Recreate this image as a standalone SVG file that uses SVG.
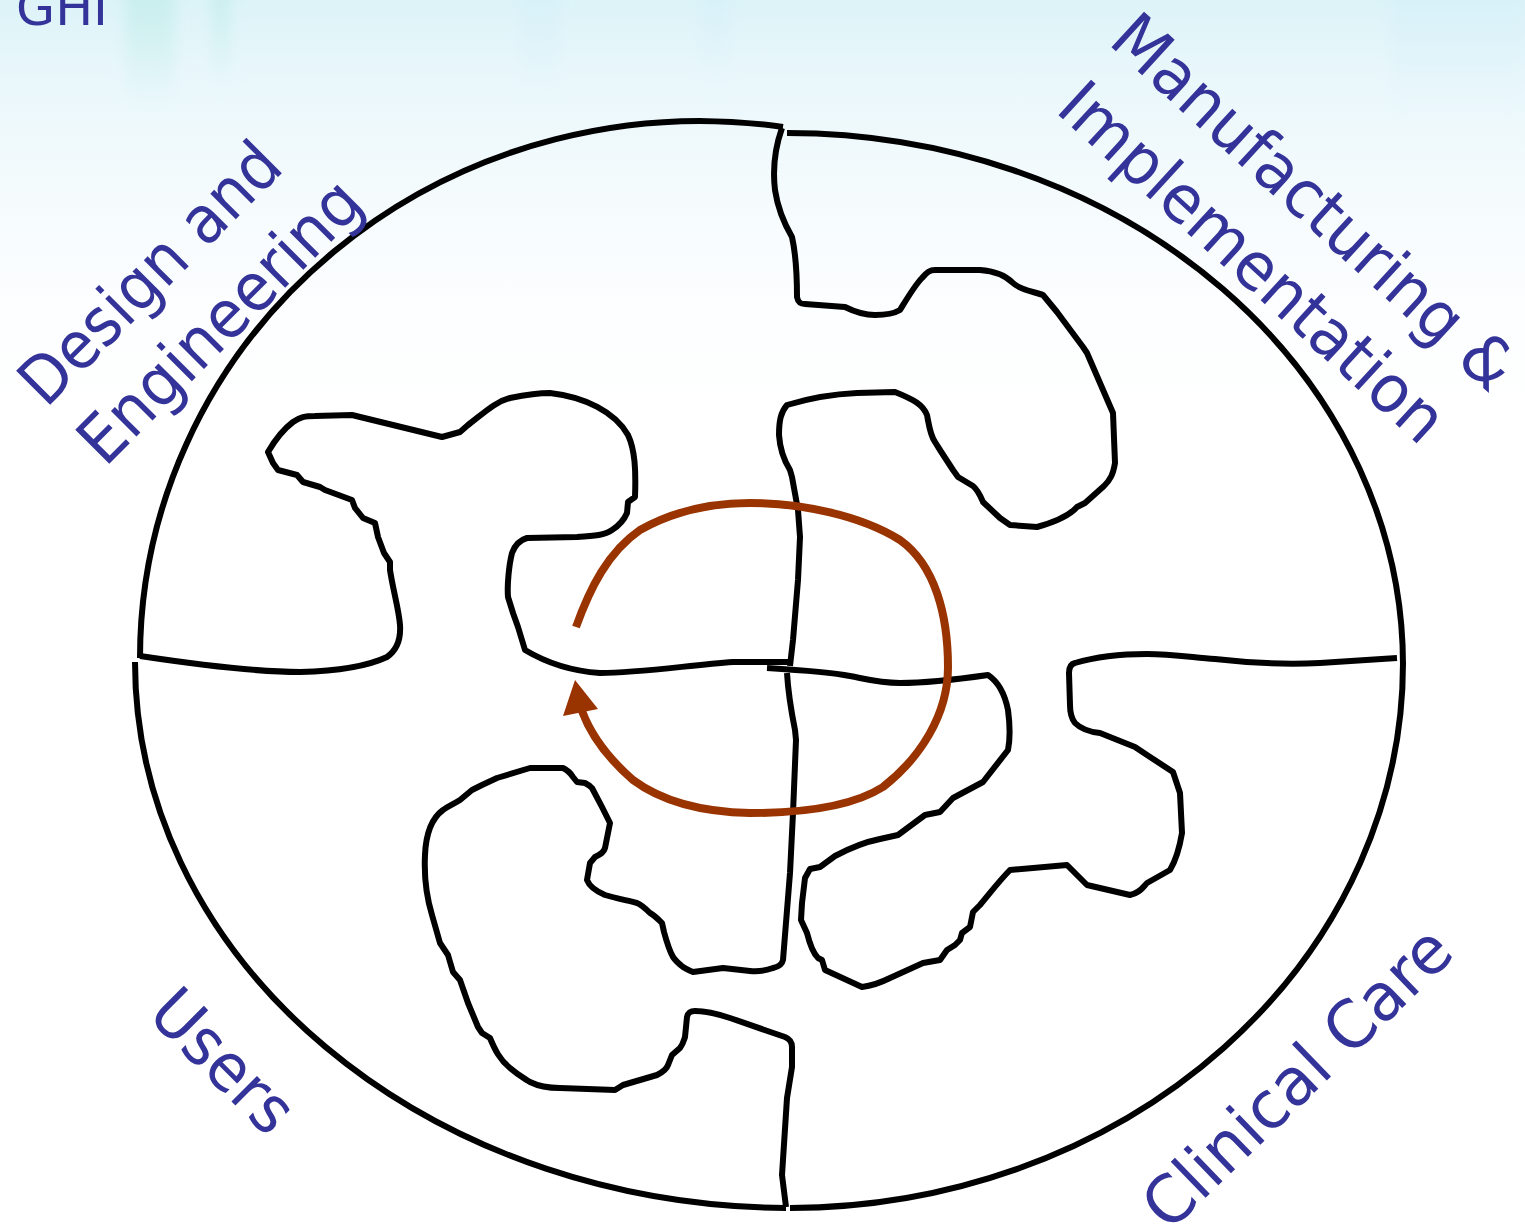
<svg xmlns="http://www.w3.org/2000/svg" width="1525" height="1231" viewBox="0 0 1525 1231">
<defs>
<linearGradient id="bg" x1="0" y1="0" x2="0" y2="1231" gradientUnits="userSpaceOnUse">
<stop offset="0" stop-color="#dcf3f8"/>
<stop offset="0.06" stop-color="#e9f7fb"/>
<stop offset="0.16" stop-color="#f5fbfd"/>
<stop offset="0.26" stop-color="#fdfeff"/>
<stop offset="0.35" stop-color="#ffffff"/>
<stop offset="1" stop-color="#ffffff"/>
</linearGradient>
<linearGradient id="streak" x1="0" y1="0" x2="0" y2="1">
<stop offset="0" stop-color="#bfece8" stop-opacity="0.75"/>
<stop offset="1" stop-color="#bfece8" stop-opacity="0"/>
</linearGradient>
<linearGradient id="streak2" x1="0" y1="0" x2="0" y2="1">
<stop offset="0" stop-color="#d4eff8" stop-opacity="0.6"/>
<stop offset="1" stop-color="#d4eff8" stop-opacity="0"/>
</linearGradient>
<filter id="soft" x="-50%" y="-50%" width="200%" height="200%">
<feGaussianBlur stdDeviation="7"/>
</filter>
</defs>
<style>
.edge{fill:none;stroke:#000;stroke-width:6;stroke-linejoin:round;stroke-linecap:butt}
.lbl{font-family:"DejaVu Sans","Liberation Sans",sans-serif;font-size:66px;fill:#333399}
.flow{fill:none;stroke:#993300;stroke-width:8;stroke-linecap:butt}
</style>
<g id="background">
<rect x="0" y="0" width="1525" height="1231" fill="url(#bg)"/>
<g filter="url(#soft)">
<rect x="125" y="-20" width="50" height="130" fill="url(#streak)"/>
<rect x="212" y="-20" width="18" height="110" fill="url(#streak)"/>
<rect x="520" y="-20" width="40" height="120" fill="url(#streak2)"/>
<rect x="700" y="-20" width="30" height="110" fill="url(#streak2)"/>
<rect x="1390" y="-20" width="135" height="140" fill="url(#streak2)"/>
</g>
</g>
<text id="title" x="16" y="25" style="font-family:'DejaVu Sans','Liberation Sans',sans-serif;font-size:50px;fill:#333399" textLength="92" lengthAdjust="spacingAndGlyphs">GHI</text>
<g id="design-engineering">
<path class="edge" d="M140,658 A560,537 0 0 1 783,127"/>
<path class="edge" d="M140,656 C200,665 260,672 300,672 C340,671 370,665 387,657 C397,650 401,640 400,625 C399,610 393,590 390,570 L390,562 L384,553 L378,537 L375,523 L363,518 L355,508 L352,500 L325,490 L320,487 L303,482 L297,475 L278,470 L273,463 L268,452 C275,440 285,428 293,422 C300,417 305,416 315,416 L352,415 L442,437 L460,432 L468,425 C485,412 495,402 510,398 C525,395 540,393 550,393 C585,397 615,412 628,435 C635,450 636,470 635,497 L628,502 L627,513 C624,520 620,525 612,530 C605,535 595,536 577,537 L527,538 C520,540 515,545 512,553 C509,565 507,585 508,597 L513,613 L518,627 L525,650 C545,662 570,671 600,673 C640,673 690,665 733,662 L789,662"/>
<text class="lbl" transform="translate(46,409) rotate(-45)" textLength="339" lengthAdjust="spacingAndGlyphs">Design and</text>
<text class="lbl" transform="translate(105,468) rotate(-45)" textLength="370" lengthAdjust="spacingAndGlyphs">Engineering</text>
</g>
<g id="manufacturing-implementation">
<path class="edge" d="M787,133 A616,532 0 0 1 1403,665"/>
<path class="edge" d="M782,128 C776,145 772,165 775,190 C778,210 785,225 792,237 C796,255 797,280 797,297 C798,302 800,304 805,304 L845,307 C855,312 865,315 875,315 C888,315 895,313 900,310 C908,297 915,285 922,278 C927,272 930,270 935,270 L980,270 C995,271 1005,275 1013,283 C1020,290 1035,292 1043,295 L1057,312 L1083,347 L1087,353 L1113,413 L1115,463 C1113,475 1110,480 1104,486 L1085,503 L1077,507 C1070,515 1055,522 1037,527 L1010,525 L1000,518 L983,502 C980,495 978,490 973,486 L958,477 L953,470 L940,450 L935,442 C930,435 929,425 927,415 C923,405 915,400 895,392 L857,393 C835,394 810,398 787,405 C781,412 779,420 779,435 C780,450 785,462 790,470 L792,477 L798,510 L800,537 L798,580 L793,640 L790,666"/>
<text class="lbl" transform="translate(1107,43) rotate(42.5)" textLength="520" lengthAdjust="spacingAndGlyphs">Manufacturing &amp;</text>
<text class="lbl" transform="translate(1054,111) rotate(42.5)" textLength="497" lengthAdjust="spacingAndGlyphs">Implementation</text>
</g>
<g id="clinical-care">
<path class="edge" d="M1403,662 A614,545 0 0 1 790,1208"/>
<path class="edge" d="M767,668 C800,670 830,672 850,676 C870,680 880,683 900,683 C930,683 960,679 988,675 C1000,683 1005,695 1008,710 C1010,725 1010,740 1008,750 L983,782 L953,798 L940,812 L925,815 L898,835 L880,839 C865,842 850,848 835,856 L820,867 L810,869 L805,878 L802,903 L801,920 L807,933 C810,945 813,953 818,958 L822,960 L825,970 L862,987 C870,986 878,984 890,978 L923,963 L940,960 L947,950 L955,945 L960,940 L962,933 L970,927 L973,912 L980,905 C990,893 1000,880 1010,870 L1067,865 L1087,885 L1130,895 C1140,893 1143,887 1147,883 L1170,870 C1176,860 1180,845 1182,833 L1180,793 L1173,772 L1147,755 L1135,747 L1100,733 C1090,732 1080,728 1075,723 C1071,718 1070,713 1070,705 L1069,673 C1069,667 1071,664 1075,663 C1095,657 1120,654 1147,654 C1170,654 1190,657 1215,659 C1250,663 1280,665 1320,663 L1397,658"/>
<text class="lbl" transform="translate(1169,1233) rotate(-44)" textLength="400" lengthAdjust="spacingAndGlyphs">Clinical Care</text>
</g>
<g id="users">
<path class="edge" d="M135,662 A655,546 0 0 0 786,1208"/>
<path class="edge" d="M787,673 C788,690 791,710 795,730 L796,740 L793,813 L790,873 L783,960 C782,965 778,967 773,968 C765,971 760,972 750,971 L723,968 L693,972 C688,970 685,968 683,967 C678,963 675,960 673,957 C669,950 667,943 664,932 L662,923 C657,918 654,915 650,913 C645,908 642,905 637,903 C625,900 615,898 605,895 C598,892 590,888 587,880 L590,863 L595,857 C601,854 604,852 605,848 L610,823 L602,807 L592,788 C589,785 587,784 585,783 L577,782 L573,777 C570,772 567,770 563,768 L530,768 L497,778 L482,785 L472,790 L460,800 C452,805 448,806 443,810 C432,818 426,832 425,855 C424,875 426,895 432,915 L440,943 L448,955 L453,972 L460,980 L468,1003 L478,1027 L482,1033 L490,1038 C495,1050 500,1060 510,1068 C518,1075 522,1077 530,1082 C540,1087 550,1088 560,1088 L615,1090 L623,1085 L657,1075 C663,1072 667,1068 668,1065 L672,1055 L680,1048 C683,1044 684,1040 685,1037 L687,1017 C688,1013 690,1011 695,1011 C705,1011 715,1013 730,1018 L785,1037 C790,1039 792,1042 792,1047 L792,1067 L787,1098 L782,1175 L786,1207"/>
<text class="lbl" transform="translate(146,1016) rotate(45)" textLength="173" lengthAdjust="spacingAndGlyphs">Users</text>
</g>
<g id="connectors">
<path class="flow" d="M576,627 C590,588 608,552 640,530 C672,512 710,503 750,503 C800,503 860,515 900,540 C935,565 948,615 948,667 C948,715 920,758 883,787 C850,808 800,813 750,813 C700,812 660,800 633,780 C610,760 592,738 582,711"/>
<polygon points="575,680 563,716 598,709" fill="#993300"/>
</g>
</svg>
